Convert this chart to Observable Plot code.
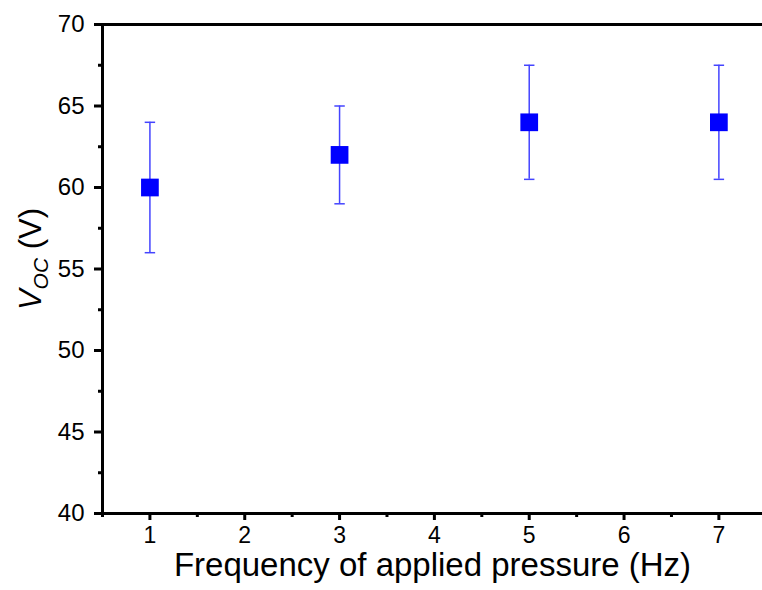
<!DOCTYPE html>
<html>
<head>
<meta charset="utf-8">
<script src="https://cdn.jsdelivr.net/npm/d3@7"></script>
<script src="https://cdn.jsdelivr.net/npm/@observablehq/plot@0.6"></script>
<style>
  html, body { margin: 0; padding: 0; background: #fff; overflow: hidden; }
  #chart svg { display: block; font-family: "Liberation Sans", Arial, sans-serif; }
</style>
</head>
<body>
<div id="chart"></div>
<script>
const frequency = [1, 3, 5, 7];
const voc = [60, 62, 64, 64];
const vocErr = [4, 3, 3.5, 3.5];
const xTicks = [1, 2, 3, 4, 5, 6, 7];
const xMinorTicks = [0.5, 1.5, 2.5, 3.5, 4.5, 5.5, 6.5];
const yTicks = [40, 45, 50, 55, 60, 65, 70];
const yMinorTicks = [42.5, 47.5, 52.5, 57.5, 62.5, 67.5];

const data = frequency.map((f, i) => ({x: f, y: voc[i], lo: voc[i] - vocErr[i], hi: voc[i] + vocErr[i]}));
const capHalf = 0.055;
const noLabel = () => "";

const plot = Plot.plot({
  width: 762,
  height: 590,
  marginLeft: 102,
  marginRight: 0,
  marginTop: 24,
  marginBottom: 77,
  style: {fontFamily: "'Liberation Sans', Arial, sans-serif", background: "#fff"},
  x: {domain: [0.5, 7.46]},
  y: {domain: [40, 70]},
  marks: [
    Plot.ruleY([70, 40], {stroke: "#000", strokeWidth: 3}),
    Plot.ruleX([0.5], {stroke: "#000", strokeWidth: 3}),
    Plot.axisX({ticks: xTicks, tickSize: 7, strokeWidth: 3, tickPadding: 6, fontSize: 23, fill: "#000", tickFormat: "d", label: "Frequency of applied pressure (Hz)", labelAnchor: "center", labelArrow: "none", labelOffset: 62}),
    Plot.axisX({ticks: xMinorTicks, tickSize: 4, strokeWidth: 3, tickFormat: noLabel, label: null}),
    Plot.axisY({ticks: yTicks, tickSize: 8, strokeWidth: 3, tickPadding: 10, fontSize: 24, fill: "#000", tickFormat: "d", label: "VOC (V)", labelAnchor: "center", labelArrow: "none", labelOffset: 84}),
    Plot.axisY({ticks: yMinorTicks, tickSize: 4, strokeWidth: 3, tickFormat: noLabel, label: null}),
    Plot.ruleX(data, {x: "x", y1: "lo", y2: "hi", stroke: "#4444ff", strokeWidth: 1.5}),
    Plot.link(data, {x1: d => d.x - capHalf, x2: d => d.x + capHalf, y1: "hi", y2: "hi", stroke: "#4444ff", strokeWidth: 1.5}),
    Plot.link(data, {x1: d => d.x - capHalf, x2: d => d.x + capHalf, y1: "lo", y2: "lo", stroke: "#4444ff", strokeWidth: 1.5}),
    Plot.dot(data, {x: "x", y: "y", symbol: "square", r: 10, fill: "#0000ff", stroke: "none"})
  ]
});

document.getElementById("chart").appendChild(plot);

d3.select(plot).selectAll("text").each(function() {
  const t = d3.select(this);
  const txt = t.text();
  if (txt === "Frequency of applied pressure (Hz)") {
    t.attr("font-size", 33).style("font-size", "33px").attr("fill", "#000");
  } else if (txt === "VOC (V)") {
    t.attr("font-size", 31).style("font-size", "31px").attr("fill", "#000").attr("dx", 10);
    t.text(null);
    t.append("tspan").attr("font-style", "italic").text("V");
    t.append("tspan").attr("font-style", "italic").style("font-size", "21px").attr("dy", 7).text("OC");
    t.append("tspan").attr("dy", -7).text(" (V)");
  }
});
</script>
</body>
</html>
